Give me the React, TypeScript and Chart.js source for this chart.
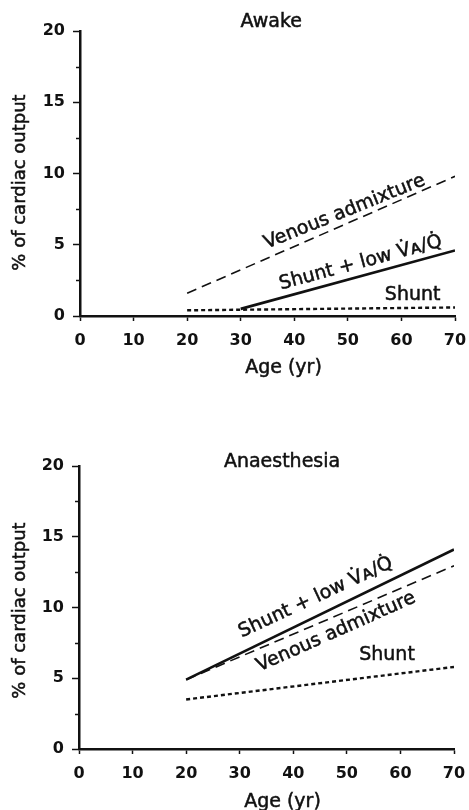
import React, { useEffect, useRef } from "react";
import { Chart, registerables } from "chart.js";

Chart.register(...registerables);

// ---------- data ----------
const xTickValues = [0, 10, 20, 30, 40, 50, 60, 70];
const yTickValues = [0, 5, 10, 15, 20];
const yMinorTicks = [2.5, 7.5, 12.5, 17.5];

// Awake
const awakeVenousAges = [20, 70];
const awakeVenous = [1.6, 9.8];
const awakeShuntLowAges = [30, 70];
const awakeShuntLow = [0.5, 4.6];
const awakeShuntAges = [20, 70];
const awakeShunt = [0.4, 0.6];

// Anaesthesia
const anaesVenousAges = [20, 70];
const anaesVenous = [4.9, 12.95];
const anaesShuntLowAges = [20, 70];
const anaesShuntLow = [4.9, 14.1];
const anaesShuntAges = [20, 70];
const anaesShunt = [3.5, 5.8];

const seriesNames = ["Venous admixture", "Shunt + low V\u0307\u1D00/Q\u0307", "Shunt"];
const panelTitles = ["Awake", "Anaesthesia"];
const xAxisTitle = "Age (yr)";
const yAxisTitle = "% of cardiac output";

// ---------- styling ----------
const INK = "#111";
const FONT = '"DejaVu Sans", sans-serif';

const pts = (xs: number[], ys: number[]) => xs.map((x, i) => ({ x, y: ys[i] }));

type LabelSpec = { text: string; x: number; y: number; angle: number };

function drawText(ctx: CanvasRenderingContext2D, text: string, x: number, y: number, angleRad: number, size: number) {
  ctx.save();
  ctx.translate(x, y);
  ctx.rotate(angleRad);
  ctx.font = `${size}px ${FONT}`;
  ctx.fillStyle = INK;
  ctx.strokeStyle = INK;
  ctx.lineWidth = 0.5;
  ctx.textAlign = "center";
  ctx.textBaseline = "middle";
  ctx.fillText(text, 0, 0);
  ctx.strokeText(text, 0, 0);
  ctx.restore();
}

const annotPlugin = {
  id: "annot",
  afterDraw(chart: any, _args: any, opts: any) {
    const { ctx, chartArea } = chart;
    const xs = chart.scales.x;
    const ys = chart.scales.y;
    ctx.save();
    // minor ticks on the y axis
    ctx.strokeStyle = INK;
    ctx.lineWidth = 1.5;
    for (const v of yMinorTicks) {
      const py = Math.round(ys.getPixelForValue(v)) + 0.5;
      ctx.beginPath();
      ctx.moveTo(chartArea.left - 4, py);
      ctx.lineTo(chartArea.left, py);
      ctx.stroke();
    }
    ctx.restore();
    // text labels
    (opts.labels as LabelSpec[]).forEach((l) => {
      drawText(ctx, l.text, xs.getPixelForValue(l.x), ys.getPixelForValue(l.y), (l.angle * Math.PI) / 180, 19);
    });
    // x axis title
    drawText(ctx, xAxisTitle, (chartArea.left + chartArea.right) / 2 + 16, chartArea.bottom + opts.xTitleDy, 0, 19);
    // y axis title
    drawText(ctx, yAxisTitle, 20, (chartArea.top + chartArea.bottom) / 2 + opts.yTitleDy, -Math.PI / 2, 18);
  },
};

type PanelProps = {
  width: number;
  height: number;
  datasets: any[];
  labels: LabelSpec[];
  padTop: number;
  padRight: number;
  yWidth: number;
  xHeight: number;
  xTitleDy: number;
  yTitleDy: number;
};

function Panel(p: PanelProps) {
  const ref = useRef<HTMLCanvasElement>(null);
  useEffect(() => {
    if (!ref.current) return;
    const chart = new Chart(ref.current, {
      type: "scatter",
      data: { datasets: p.datasets },
      plugins: [annotPlugin as any],
      options: {
        responsive: false,
        animation: false,
        layout: { padding: { top: p.padTop, right: p.padRight, left: 0, bottom: 0 } },
        plugins: {
          legend: { display: false },
          tooltip: { enabled: false },
          annot: { labels: p.labels, xTitleDy: p.xTitleDy, yTitleDy: p.yTitleDy },
        } as any,
        scales: {
          x: {
            type: "linear",
            min: 0,
            max: 70,
            afterBuildTicks: (s: any) => {
              s.ticks = xTickValues.map((v) => ({ value: v }));
            },
            afterFit: (s: any) => {
              s.height = p.xHeight;
              s.paddingLeft = 0;
              s.paddingRight = 0;
            },
            ticks: {
              color: INK,
              font: { family: FONT, size: 16, weight: "bold" },
              padding: 10,
              maxRotation: 0,
            },
            grid: {
              drawOnChartArea: false,
              drawTicks: true,
              tickLength: 5,
              tickWidth: 1.5,
              tickColor: INK,
            },
            border: { display: true, color: INK, width: 2.5 },
            title: { display: false },
          },
          y: {
            type: "linear",
            min: 0,
            max: 20,
            afterBuildTicks: (s: any) => {
              s.ticks = yTickValues.map((v) => ({ value: v }));
            },
            afterFit: (s: any) => {
              s.width = p.yWidth;
              s.paddingTop = 0;
              s.paddingBottom = 0;
            },
            ticks: {
              color: INK,
              font: { family: FONT, size: 16, weight: "bold" },
              padding: 8,
            },
            grid: {
              drawOnChartArea: false,
              drawTicks: true,
              tickLength: 7,
              tickWidth: 1.5,
              tickColor: INK,
            },
            border: { display: true, color: INK, width: 2.5 },
            title: { display: false },
          },
        },
      } as any,
    });
    return () => chart.destroy();
  }, []);
  return <canvas ref={ref} width={p.width} height={p.height} style={{ display: "block" }} />;
}

const lineBase = { showLine: true, pointRadius: 0, fill: false, borderColor: INK, backgroundColor: INK };

const venousStyle = { ...lineBase, borderWidth: 1.6, borderDash: [10, 6] };
const solidStyle = { ...lineBase, borderWidth: 2.6 };
const dottedStyle = { ...lineBase, borderWidth: 2.4, borderDash: [4, 3] };

export default function App() {
  const awakeSets = [
    { label: seriesNames[0], data: pts(awakeVenousAges, awakeVenous), ...venousStyle },
    { label: seriesNames[1], data: pts(awakeShuntLowAges, awakeShuntLow), ...solidStyle },
    { label: seriesNames[2], data: pts(awakeShuntAges, awakeShunt), ...dottedStyle },
  ];
  const anaesSets = [
    { label: seriesNames[0], data: pts(anaesVenousAges, anaesVenous), ...venousStyle },
    { label: seriesNames[1], data: pts(anaesShuntLowAges, anaesShuntLow), ...solidStyle },
    { label: seriesNames[2], data: pts(anaesShuntAges, anaesShunt), ...dottedStyle },
  ];
  const awakeLabels: LabelSpec[] = [
    { text: panelTitles[0], x: 35.7, y: 20.6, angle: 0 },
    { text: seriesNames[0], x: 49.4, y: 7.3, angle: -22 },
    { text: seriesNames[1], x: 52.4, y: 3.72, angle: -15 },
    { text: seriesNames[2], x: 62.1, y: 1.47, angle: 0 },
  ];
  const anaesLabels: LabelSpec[] = [
    { text: panelTitles[1], x: 37.9, y: 20.3, angle: 0 },
    { text: seriesNames[1], x: 44.2, y: 10.7, angle: -25 },
    { text: seriesNames[0], x: 48.0, y: 8.27, angle: -24 },
    { text: seriesNames[2], x: 57.5, y: 6.64, angle: 0 },
  ];
  return (
    <div
      style={{
        position: "absolute",
        left: 0,
        top: 0,
        width: 469,
        height: 810,
        overflow: "hidden",
        background: "#fff",
      }}
    >
      <div style={{ position: "absolute", left: 0, top: 0 }}>
        <Panel
          width={469}
          height={400}
          datasets={awakeSets}
          labels={awakeLabels}
          padTop={31}
          padRight={14}
          yWidth={80}
          xHeight={84}
          xTitleDy={52}
          yTitleDy={9}
        />
      </div>
      <div style={{ position: "absolute", left: 0, top: 400 }}>
        <Panel
          width={469}
          height={420}
          datasets={anaesSets}
          labels={anaesLabels}
          padTop={66}
          padRight={15}
          yWidth={79}
          xHeight={71}
          xTitleDy={53}
          yTitleDy={3}
        />
      </div>
    </div>
  );
}
